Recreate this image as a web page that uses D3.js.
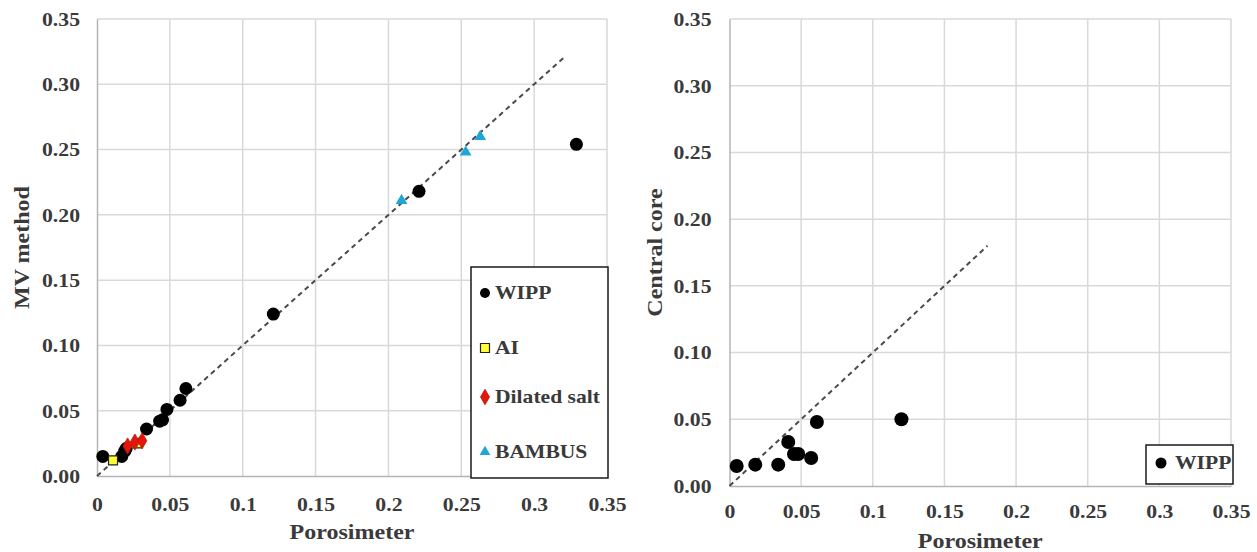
<!DOCTYPE html>
<html>
<head>
<meta charset="utf-8">
<script src="https://cdn.jsdelivr.net/npm/d3@7"></script>
<style>
  html, body { margin: 0; padding: 0; background: #fff; }
  svg { display: block; }
</style>
</head>
<body>
<svg id="chart" width="1257" height="552"></svg>
<script>
// ---------- data ----------
const xTickValues = [0, 0.05, 0.1, 0.15, 0.2, 0.25, 0.3, 0.35];
const xTickLabels = ["0", "0.05", "0.1", "0.15", "0.2", "0.25", "0.3", "0.35"];
const yTickValues = [0, 0.05, 0.1, 0.15, 0.2, 0.25, 0.3, 0.35];
const leftYTickLabels = ["0.00", "0.05", "0.10", "0.15", "0.20", "0.25", "0.30", "0.35"];
const rightYTickLabels = ["0.00", "0.05", "0.10", "0.15", "0.20", "0.25", "0.30", "0.35"];

// Left panel: MV method vs Porosimeter
const wippX = [0.004, 0.017, 0.019, 0.020, 0.034, 0.043, 0.045, 0.048, 0.057, 0.061, 0.121, 0.221, 0.329];
const wippY = [0.015, 0.015, 0.019, 0.021, 0.036, 0.042, 0.043, 0.051, 0.058, 0.067, 0.124, 0.218, 0.254];
const aiX = [0.011, 0.028];
const aiY = [0.012, 0.025];
const dilatedX = [0.021, 0.026, 0.031];
const dilatedY = [0.023, 0.026, 0.027];
const bambusX = [0.209, 0.253, 0.263];
const bambusY = [0.211, 0.248, 0.260];
const leftLineEnd = 0.32;

// Right panel: Central core vs Porosimeter
const coreX = [0.005, 0.018, 0.034, 0.041, 0.045, 0.048, 0.057, 0.061, 0.120];
const coreY = [0.015, 0.016, 0.016, 0.033, 0.024, 0.024, 0.021, 0.048, 0.050];
const rightLineEnd = 0.18;

const leftLegend = ["WIPP", "AI", "Dilated salt", "BAMBUS"];
const rightLegend = ["WIPP"];

// ---------- drawing ----------
const svg = d3.select("#chart");
const FONT = "Liberation Serif";
const TEXT_COLOR = "#3a3a3a";
const gridColor = "#d9d9d9";
const axisColor = "#b5b5b5";
const TICK_SIZE = 18, TITLE_SIZE = 20, LEG_SIZE = 18;

function styleText(sel, size) {
  return sel.attr("font-family", FONT).attr("font-weight", "bold")
    .attr("font-size", size).attr("fill", TEXT_COLOR)
    .style("font-family", `"${FONT}"`).style("font-weight", "bold")
    .style("font-size", size + "px");
}

// horizontal stretch factors measured so that text widths match the reference
function fitScale(sample, size, target) {
  const t = styleText(svg.append("text"), size).text(sample);
  const w = t.node().getComputedTextLength();
  t.remove();
  return w > 0 ? target / w : 1;
}
const SX_TICK = fitScale("0.05", TICK_SIZE, 38);
const SX_TITLE = fitScale("Porosimeter", TITLE_SIZE, 125);
const SX_LEG = fitScale("Dilated salt", LEG_SIZE, 105);

function panel(cfg) {
  const x = d3.scaleLinear().domain([0, 0.35]).range(cfg.xr);
  const y = d3.scaleLinear().domain([0, 0.35]).range(cfg.yr);
  const g = svg.append("g");

  // gridlines
  g.append("g").selectAll("line").data(xTickValues.filter(d => d > 0)).join("line")
    .attr("x1", d => x(d)).attr("x2", d => x(d))
    .attr("y1", y(0)).attr("y2", y(0.35))
    .attr("stroke", gridColor).attr("stroke-width", 1.5);
  g.append("g").selectAll("line").data(yTickValues.filter(d => d > 0)).join("line")
    .attr("x1", x(0)).attr("x2", x(0.35))
    .attr("y1", d => y(d)).attr("y2", d => y(d))
    .attr("stroke", gridColor).attr("stroke-width", 1.5);

  // axes
  const xAxis = d3.axisBottom(x).tickValues(xTickValues)
    .tickFormat((d, i) => xTickLabels[i]).tickSize(0);
  const yAxis = d3.axisLeft(y).tickValues(yTickValues)
    .tickFormat((d, i) => cfg.yLabels[i]).tickSize(0);

  const gx = g.append("g").attr("transform", `translate(0,${y(0)})`).call(xAxis);
  gx.attr("font-family", FONT).attr("font-size", TICK_SIZE);
  gx.select(".domain").attr("stroke", axisColor).attr("stroke-width", 1.5);
  styleText(gx.selectAll("text"), TICK_SIZE)
    .attr("y", cfg.xLabelOffset).attr("dy", 0)
    .attr("transform", `scale(${SX_TICK},1)`);

  const gy = g.append("g").attr("transform", `translate(${x(0)},0)`).call(yAxis);
  gy.attr("font-family", FONT).attr("font-size", TICK_SIZE);
  gy.select(".domain").attr("stroke", axisColor).attr("stroke-width", 1.5);
  styleText(gy.selectAll("text"), TICK_SIZE)
    .attr("x", -cfg.yLabelGap / SX_TICK).attr("dy", "0.35em")
    .attr("transform", `scale(${SX_TICK},1)`);
  g.selectAll(".tick line").remove();

  // dashed 1:1 line
  g.append("line")
    .attr("x1", x(0)).attr("y1", y(0))
    .attr("x2", x(cfg.lineEnd)).attr("y2", y(cfg.lineEnd))
    .attr("stroke", "#4a4a4a").attr("stroke-width", 2)
    .attr("stroke-dasharray", "5,4");

  // axis titles
  styleText(g.append("text"), TITLE_SIZE)
    .attr("transform", `translate(${(cfg.xr[0] + cfg.xr[1]) / 2},${cfg.xTitleY}) scale(${SX_TITLE},1)`)
    .attr("text-anchor", "middle").text("Porosimeter");
  styleText(g.append("text"), TITLE_SIZE)
    .attr("transform", `translate(${cfg.yTitleX},${(cfg.yr[0] + cfg.yr[1]) / 2}) rotate(-90) scale(${SX_TITLE},1)`)
    .attr("text-anchor", "middle").attr("dy", "0.35em").text(cfg.yTitle);

  return { g, x, y };
}

const L = panel({
  xr: [97, 607], yr: [476, 19], yLabels: leftYTickLabels,
  xLabelOffset: 35, yLabelGap: 17, lineEnd: leftLineEnd,
  xTitleY: 539, yTitleX: 22, yTitle: "MV method"
});
const R = panel({
  xr: [729.5, 1231], yr: [486, 19], yLabels: rightYTickLabels,
  xLabelOffset: 32, yLabelGap: 18, lineEnd: rightLineEnd,
  xTitleY: 548, yTitleX: 655, yTitle: "Central core"
});

// marker helpers
const sym = {
  circle: (r) => d3.symbol(d3.symbolCircle, Math.PI * r * r)(),
  square: (s) => d3.symbol(d3.symbolSquare, s * s)(),
  diamond: (s) => d3.symbol(d3.symbolDiamond, s)(),
  triangle: (s) => d3.symbol(d3.symbolTriangle, s)()
};

function series(p, xs, ys, path, fill, stroke, sw) {
  p.g.append("g").selectAll("path").data(xs.map((v, i) => [v, ys[i]])).join("path")
    .attr("d", path)
    .attr("transform", d => `translate(${p.x(d[0])},${p.y(d[1])})`)
    .attr("fill", fill).attr("stroke", stroke).attr("stroke-width", sw);
}

// left panel series
series(L, wippX, wippY, sym.circle(6.5), "#000", "none", 0);
series(L, aiX, aiY, sym.square(9), "#ffff33", "#222", 1.2);
series(L, dilatedX, dilatedY, sym.diamond(75), "#e8140c", "#b02000", 0.8);
series(L, bambusX, bambusY, sym.triangle(60), "#1fa6d8", "none", 0);

// right panel series
series(R, coreX, coreY, sym.circle(7), "#000", "none", 0);

// left legend
const lg = svg.append("g");
lg.append("rect").attr("x", 471).attr("y", 267).attr("width", 137).attr("height", 211)
  .attr("fill", "#fff").attr("stroke", "#1a1a1a").attr("stroke-width", 1.5);
const legendY = [293, 348, 397, 452];
const legendMarks = [
  { d: sym.circle(5), fill: "#000", stroke: "none", sw: 0 },
  { d: sym.square(9), fill: "#ffff33", stroke: "#222", sw: 1.2 },
  { d: sym.diamond(70), fill: "#e8140c", stroke: "#b02000", sw: 0.8 },
  { d: sym.triangle(50), fill: "#1fa6d8", stroke: "none", sw: 0 }
];
leftLegend.forEach((name, i) => {
  lg.append("path").attr("d", legendMarks[i].d)
    .attr("transform", `translate(485,${legendY[i]})`)
    .attr("fill", legendMarks[i].fill).attr("stroke", legendMarks[i].stroke)
    .attr("stroke-width", legendMarks[i].sw);
  styleText(lg.append("text"), LEG_SIZE)
    .attr("transform", `translate(495,${legendY[i] + 6}) scale(${SX_LEG},1)`)
    .text(name);
});

// right legend
const rg = svg.append("g");
rg.append("rect").attr("x", 1146).attr("y", 445).attr("width", 87).attr("height", 39)
  .attr("fill", "#fff").attr("stroke", "#1a1a1a").attr("stroke-width", 1.5);
rightLegend.forEach((name) => {
  rg.append("path").attr("d", sym.circle(5.5)).attr("transform", "translate(1161,463)").attr("fill", "#000");
  styleText(rg.append("text"), LEG_SIZE)
    .attr("transform", `translate(1175,469) scale(${SX_LEG},1)`)
    .text(name);
});
</script>
</body>
</html>
